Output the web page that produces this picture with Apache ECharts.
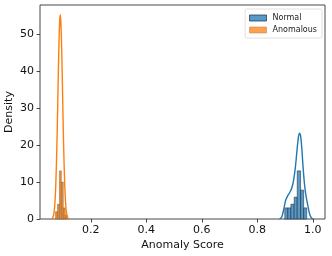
<!DOCTYPE html>
<html>
<head>
<meta charset="utf-8">
<script src="https://cdn.jsdelivr.net/npm/echarts@6/dist/echarts.min.js"></script>
<style>html,body{margin:0;padding:0;background:#fff}#c{width:332px;height:256px}</style>
</head>
<body>
<div id="c"></div>
<script>
// Histogram bins: [left edge, right edge, density]
var normalBins = [
  [0.899, 0.910, 3.0],
  [0.910, 0.921, 3.0],
  [0.921, 0.933, 4.0],
  [0.933, 0.944, 5.9],
  [0.944, 0.956, 13.0],
  [0.956, 0.967, 7.8],
  [0.967, 0.978, 3.0]
];
var anomalousBins = [
  [0.073, 0.080, 2.0],
  [0.080, 0.087, 4.0],
  [0.087, 0.094, 13.0],
  [0.094, 0.101, 10.0],
  [0.101, 0.108, 3.0],
  [0.108, 0.115, 1.0]
];
// KDE curves (x, density)
var normalKdeX = [0.880,0.888,0.895,0.902,0.910,0.918,0.925,0.932,0.938,0.943,0.948,0.952,0.956,0.960,0.965,0.970,0.975,0.980,0.985,0.990,0.996,1.002];
var normalKdeY = [0,0.5,2.5,5.0,6.3,7.3,8.5,11.0,14.5,18.5,22.0,23.2,22.5,19.5,14.0,9.5,6.5,4.5,2.5,1.0,0.2,0];
var anomKdeX = [0.058,0.062,0.066,0.070,0.074,0.078,0.080,0.082,0.084,0.086,0.088,0.090,0.092,0.094,0.096,0.098,0.100,0.102,0.106,0.110,0.114,0.118,0.122];
var anomKdeY = [0.05,0.25,1.0,3.5,9.4,20.3,27.5,35.3,42.9,49.2,53.5,55.2,53.5,49.2,42.9,35.3,27.5,20.3,9.4,3.5,1.0,0.25,0.05];
var xTicks = [0.2, 0.4, 0.6, 0.8, 1.0];
var yTicks = [0, 10, 20, 30, 40, 50];

function zip(a, b) { return a.map(function (v, i) { return [v, b[i]]; }); }

function histRender(params, api) {
  var x0 = api.value(0), x1 = api.value(1), h = api.value(2);
  var p0 = api.coord([x0, h]);
  var p1 = api.coord([x1, 0]);
  return {
    type: 'rect',
    shape: { x: p0[0], y: p0[1], width: p1[0] - p0[0], height: p1[1] - p0[1] },
    style: api.style()
  };
}

var FONT = 'DejaVu Sans';
var chart = echarts.init(document.getElementById('c'), null, { renderer: 'canvas' });
chart.setOption({
  animation: false,
  textStyle: { fontFamily: FONT },
  grid: { left: 40, right: 7, top: 5, bottom: 37, outerBoundsMode: 'none', containLabel: false,
    show: true, borderColor: '#333', borderWidth: 0.9, backgroundColor: 'transparent' },
  legend: {
    right: 10, top: 9, orient: 'vertical', itemGap: 4, itemWidth: 17, itemHeight: 6,
    padding: [5, 5, 4, 4],
    backgroundColor: '#fff', borderColor: '#d8d8d8', borderWidth: 0.8, borderRadius: 2,
    textStyle: { fontFamily: FONT, fontSize: 8, color: '#222', padding: [0, 0, 0, 1] },
    data: [
      { name: 'Normal', icon: 'rect', itemStyle: { color: '#5799c7', borderColor: '#2a3f52', borderWidth: 0.8 } },
      { name: 'Anomalous', icon: 'rect', itemStyle: { color: '#ffa04e', borderColor: '#c07a3c', borderWidth: 0.5 } }
    ]
  },
  xAxis: {
    type: 'value', min: 0.017, max: 1.044,
    name: 'Anomaly Score', nameLocation: 'middle', nameGap: 21, nameMoveOverlap: false,
    nameTextStyle: { fontFamily: FONT, fontSize: 11, color: '#111' },
    axisLine: { show: false },
    axisTick: { show: true, length: 3.5, customValues: xTicks, lineStyle: { color: '#333', width: 0.9 } },
    axisLabel: { customValues: xTicks, margin: 6, fontFamily: FONT, fontSize: 11, color: '#111',
      formatter: function (v) { return v.toFixed(1); } },
    splitLine: { show: false }
  },
  yAxis: {
    type: 'value', min: 0, max: 57.8,
    name: 'Density', nameLocation: 'middle', nameGap: 25, nameRotate: 90, nameMoveOverlap: false,
    nameTextStyle: { fontFamily: FONT, fontSize: 11, color: '#111' },
    axisLine: { show: false },
    axisTick: { show: true, length: 3.5, customValues: yTicks, lineStyle: { color: '#333', width: 0.9 } },
    axisLabel: { customValues: yTicks, margin: 6, fontFamily: FONT, fontSize: 11, color: '#111' },
    splitLine: { show: false }
  },
  series: [
    { name: 'Normal', type: 'custom', renderItem: histRender, data: normalBins,
      encode: { x: [0, 1], y: 2 },
      itemStyle: { color: '#5799c7', borderColor: 'rgba(20,30,40,0.85)', borderWidth: 0.6 } },
    { name: 'Anomalous', type: 'custom', renderItem: histRender, data: anomalousBins,
      encode: { x: [0, 1], y: 2 },
      itemStyle: { color: '#e8903e', borderColor: 'rgba(110,60,20,0.7)', borderWidth: 0.5 } },
    { name: 'Normal KDE', type: 'line', data: zip(normalKdeX, normalKdeY), showSymbol: false, smooth: 0.3,
      lineStyle: { color: '#1f77b4', width: 1.4 }, z: 5 },
    { name: 'Anomalous KDE', type: 'line', data: zip(anomKdeX, anomKdeY), showSymbol: false, smooth: 0.3,
      lineStyle: { color: '#ff7f0e', width: 1.4 }, z: 5 }
  ]
});
</script>
</body>
</html>
